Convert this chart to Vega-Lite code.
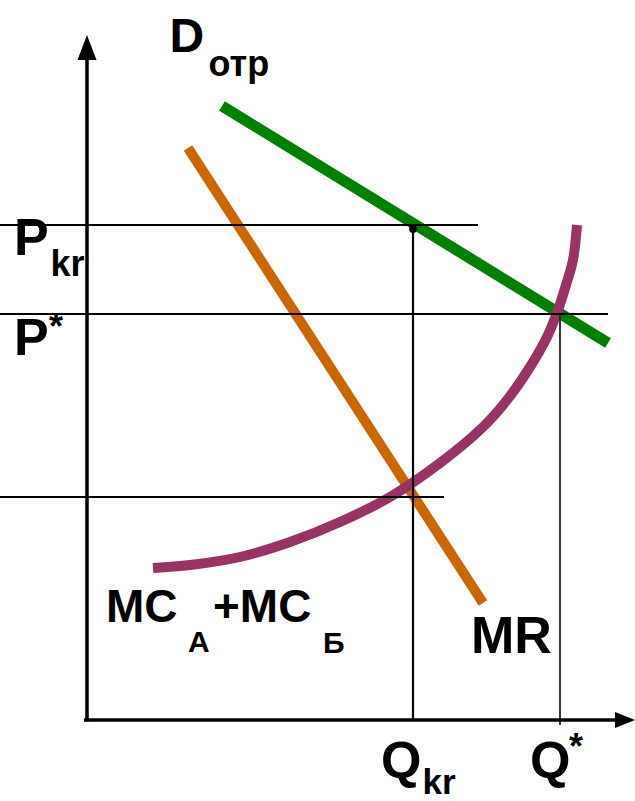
{
  "$schema": "https://vega.github.io/schema/vega-lite/v6.json",
  "width": 635,
  "height": 801,
  "autosize": "none",
  "padding": 0,
  "background": "white",
  "config": {"view": {"stroke": null}},
  "datasets": {
    "segments": [
      {"kind": "guide", "q1": -87, "p1": 495, "q2": 391, "p2": 495},
      {"kind": "guide", "q1": -87, "p1": 406, "q2": 521, "p2": 406},
      {"kind": "guide", "q1": -87, "p1": 223, "q2": 357, "p2": 223},
      {"kind": "guide", "q1": 326, "p1": 491, "q2": 326, "p2": 0},
      {"kind": "guideThin", "q1": 473, "p1": 406, "q2": 473, "p2": -5},
      {"kind": "axis", "q1": 0, "p1": -1.5, "q2": 0, "p2": 662},
      {"kind": "axis", "q1": -3, "p1": 0, "q2": 530, "p2": 0},
      {"kind": "demand", "q1": 135, "p1": 614, "q2": 521, "p2": 377},
      {"kind": "mr", "q1": 101, "p1": 572, "q2": 396, "p2": 117}
    ],
    "mc": [
      {"q": 66, "p": 152}, {"q": 103, "p": 155}, {"q": 153, "p": 163},
      {"q": 203, "p": 178}, {"q": 253, "p": 198}, {"q": 303, "p": 223},
      {"q": 353, "p": 257}, {"q": 396, "p": 293}, {"q": 420, "p": 320},
      {"q": 443, "p": 353}, {"q": 460, "p": 383}, {"q": 471, "p": 410},
      {"q": 479, "p": 435}, {"q": 486, "p": 460}, {"q": 490, "p": 495}
    ],
    "arrows": [
      {"dir": "up", "q": 0, "p": 672.5},
      {"dir": "right", "q": 538, "p": 0}
    ],
    "dots": [{"q": 326, "p": 491}],
    "labels": [
      {"kind": "d", "q": 82.5, "p": 668, "label": "D"},
      {"kind": "sub", "q": 121.5, "p": 644, "label": "отр"},
      {"kind": "big", "q": -73, "p": 465, "label": "P"},
      {"kind": "sub", "q": -36.4, "p": 444, "label": "kr"},
      {"kind": "big", "q": -73, "p": 365, "label": "P"},
      {"kind": "sub", "q": -38, "p": 381, "label": "*"},
      {"kind": "mc", "q": 19, "p": 98, "label": "MC"},
      {"kind": "mcsub", "q": 101, "p": 68, "label": "А"},
      {"kind": "mc", "q": 126, "p": 98, "label": "+MC"},
      {"kind": "mcsub", "q": 236, "p": 67, "label": "Б"},
      {"kind": "big", "q": 384, "p": 67, "label": "MR"},
      {"kind": "big", "q": 294, "p": -58, "label": "Q"},
      {"kind": "subq", "q": 335.6, "p": -74, "label": "kr"},
      {"kind": "big", "q": 443, "p": -58, "label": "Q"},
      {"kind": "sub", "q": 482, "p": -39, "label": "*"}
    ]
  },
  "encoding": {
    "x": {"field": "q", "type": "quantitative", "scale": {"domain": [-87, 548], "nice": false, "zero": false}, "axis": null},
    "y": {"field": "p", "type": "quantitative", "scale": {"domain": [-81, 720], "nice": false, "zero": false}, "axis": null}
  },
  "layer": [
    {
      "data": {"name": "segments"},
      "transform": [{"filter": "datum.kind == 'demand'"}],
      "mark": {"type": "rule", "color": "#008000", "strokeWidth": 11},
      "encoding": {
        "x": {"field": "q1", "type": "quantitative"},
        "y": {"field": "p1", "type": "quantitative"},
        "x2": {"field": "q2"},
        "y2": {"field": "p2"}
      }
    },
    {
      "data": {"name": "segments"},
      "transform": [{"filter": "datum.kind == 'mr'"}],
      "mark": {"type": "rule", "color": "#CC6600", "strokeWidth": 10},
      "encoding": {
        "x": {"field": "q1", "type": "quantitative"},
        "y": {"field": "p1", "type": "quantitative"},
        "x2": {"field": "q2"},
        "y2": {"field": "p2"}
      }
    },
    {
      "data": {"name": "mc"},
      "mark": {"type": "line", "color": "#993366", "strokeWidth": 10, "interpolate": "catmull-rom"},
      "encoding": {
        "x": {"field": "q", "type": "quantitative"},
        "y": {"field": "p", "type": "quantitative"}
      }
    },
    {
      "data": {"name": "segments"},
      "transform": [{"filter": "datum.kind == 'guide'"}],
      "mark": {"type": "rule", "color": "black", "strokeWidth": 2.2},
      "encoding": {
        "x": {"field": "q1", "type": "quantitative"},
        "y": {"field": "p1", "type": "quantitative"},
        "x2": {"field": "q2"},
        "y2": {"field": "p2"}
      }
    },
    {
      "data": {"name": "segments"},
      "transform": [{"filter": "datum.kind == 'guideThin'"}],
      "mark": {"type": "rule", "color": "#222222", "strokeWidth": 1.8},
      "encoding": {
        "x": {"field": "q1", "type": "quantitative"},
        "y": {"field": "p1", "type": "quantitative"},
        "x2": {"field": "q2"},
        "y2": {"field": "p2"}
      }
    },
    {
      "data": {"name": "segments"},
      "transform": [{"filter": "datum.kind == 'axis'"}],
      "mark": {"type": "rule", "color": "black", "strokeWidth": 3.5},
      "encoding": {
        "x": {"field": "q1", "type": "quantitative"},
        "y": {"field": "p1", "type": "quantitative"},
        "x2": {"field": "q2"},
        "y2": {"field": "p2"}
      }
    },
    {
      "data": {"name": "arrows"},
      "transform": [{"filter": "datum.dir == 'up'"}],
      "mark": {"type": "point", "shape": "M0,-1L0.76,1L-0.76,1Z", "size": 625, "filled": true, "color": "black", "opacity": 1, "strokeWidth": 0}
    },
    {
      "data": {"name": "arrows"},
      "transform": [{"filter": "datum.dir == 'right'"}],
      "mark": {"type": "point", "shape": "M1,0L-1,0.8L-1,-0.8Z", "size": 400, "filled": true, "color": "black", "opacity": 1, "strokeWidth": 0}
    },
    {
      "data": {"name": "dots"},
      "mark": {"type": "point", "shape": "circle", "size": 60, "filled": true, "color": "black", "opacity": 1, "strokeWidth": 0}
    },
    {
      "data": {"name": "labels"},
      "transform": [{"filter": "datum.kind == 'big'"}],
      "mark": {"type": "text", "font": "Liberation Sans", "fontWeight": "bold", "fontSize": 52, "align": "left", "baseline": "alphabetic", "color": "black"},
      "encoding": {"text": {"field": "label"}}
    },
    {
      "data": {"name": "labels"},
      "transform": [{"filter": "datum.kind == 'd'"}],
      "mark": {"type": "text", "font": "Liberation Sans", "fontWeight": "bold", "fontSize": 48, "align": "left", "baseline": "alphabetic", "color": "black"},
      "encoding": {"text": {"field": "label"}}
    },
    {
      "data": {"name": "labels"},
      "transform": [{"filter": "datum.kind == 'sub'"}],
      "mark": {"type": "text", "font": "Liberation Sans", "fontWeight": "bold", "fontSize": 36, "align": "left", "baseline": "alphabetic", "color": "black"},
      "encoding": {"text": {"field": "label"}}
    },
    {
      "data": {"name": "labels"},
      "transform": [{"filter": "datum.kind == 'subq'"}],
      "mark": {"type": "text", "font": "Liberation Sans", "fontWeight": "bold", "fontSize": 35, "align": "left", "baseline": "alphabetic", "color": "black"},
      "encoding": {"text": {"field": "label"}}
    },
    {
      "data": {"name": "labels"},
      "transform": [{"filter": "datum.kind == 'mc'"}],
      "mark": {"type": "text", "font": "Liberation Sans", "fontWeight": "bold", "fontSize": 46, "align": "left", "baseline": "alphabetic", "color": "black"},
      "encoding": {"text": {"field": "label"}}
    },
    {
      "data": {"name": "labels"},
      "transform": [{"filter": "datum.kind == 'mcsub'"}],
      "mark": {"type": "text", "font": "Liberation Sans", "fontWeight": "bold", "fontSize": 30, "align": "left", "baseline": "alphabetic", "color": "black"},
      "encoding": {"text": {"field": "label"}}
    }
  ]
}
